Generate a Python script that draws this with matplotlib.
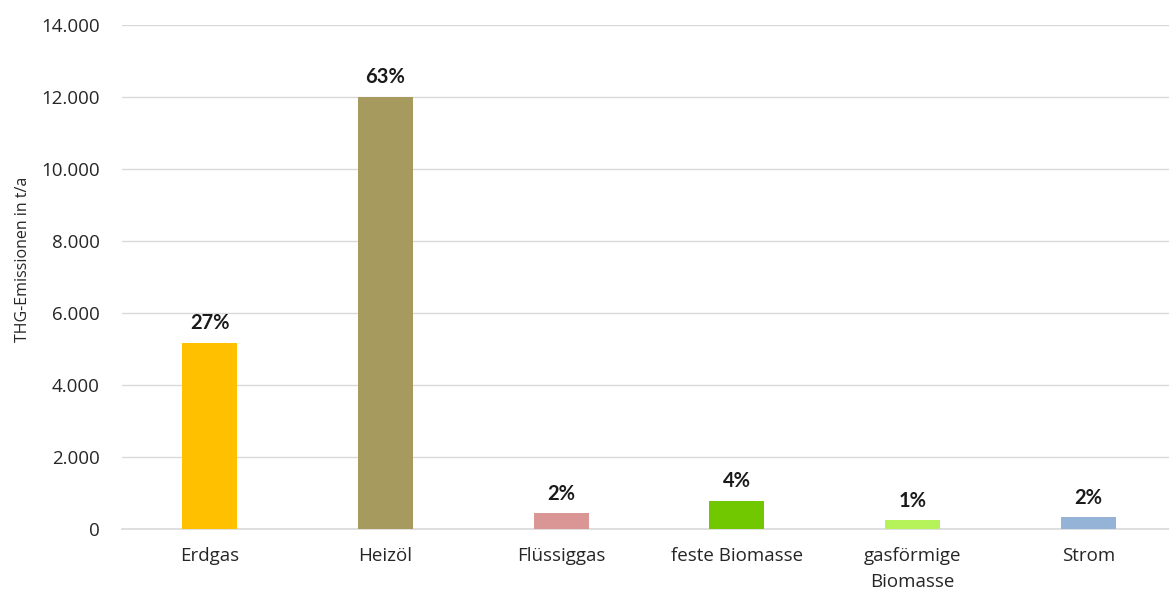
import matplotlib
matplotlib.use("Agg")
import matplotlib.pyplot as plt
from matplotlib.ticker import FuncFormatter

categories = ["Erdgas", "Heizöl", "Flüssiggas", "feste Biomasse", "gasförmige\nBiomasse", "Strom"]
emissions = [5170, 12000, 440, 780, 250, 330]
shares = ["27%", "63%", "2%", "4%", "1%", "2%"]
colors = ["#FFC000", "#A69A5E", "#DA9694", "#72C800", "#B6F25A", "#95B3D7"]

plt.rcParams["font.family"] = ["Open Sans", "DejaVu Sans"]

fig = plt.figure(figsize=(11.69, 5.92), dpi=100)
ax = fig.add_axes([0.1044, 0.106, 0.8956, 0.852])

x = range(len(categories))
bars = ax.bar(x, emissions, width=0.313, color=colors, zorder=3)

for bar, label in zip(bars, shares):
    ax.annotate(label, (bar.get_x() + bar.get_width() / 2, bar.get_height()),
                xytext=(0, 7), textcoords="offset points", ha="center", va="bottom",
                fontsize=14.5, fontweight="bold", color="#1a1a1a",
                family=["Lato", "DejaVu Sans"])

ax.set_xlim(-0.5, len(categories) - 0.54)
ax.set_ylim(0, 14000)
ax.set_yticks(range(0, 14001, 2000))
ax.yaxis.set_major_formatter(FuncFormatter(lambda v, p: f"{int(v):,}".replace(",", ".")))
ax.set_xticks(list(x))
ax.set_xticklabels(categories, fontsize=13.5, color="#262626", linespacing=1.55)
ax.tick_params(axis="y", labelsize=13.5, labelcolor="#262626", length=0, pad=16)
ax.tick_params(axis="x", length=0, pad=13)
ax.set_ylabel("THG-Emissionen in t/a", fontsize=11.5, color="#262626")
ax.yaxis.set_label_coords(-0.087, 0.536)

ax.grid(axis="y", color="#d9d9d9", linewidth=1, zorder=0)
for side in ["top", "right", "left"]:
    ax.spines[side].set_visible(False)
ax.spines["bottom"].set_color("#d9d9d9")
ax.spines["bottom"].set_linewidth(1.2)

fig.savefig("out.png", dpi=100)
